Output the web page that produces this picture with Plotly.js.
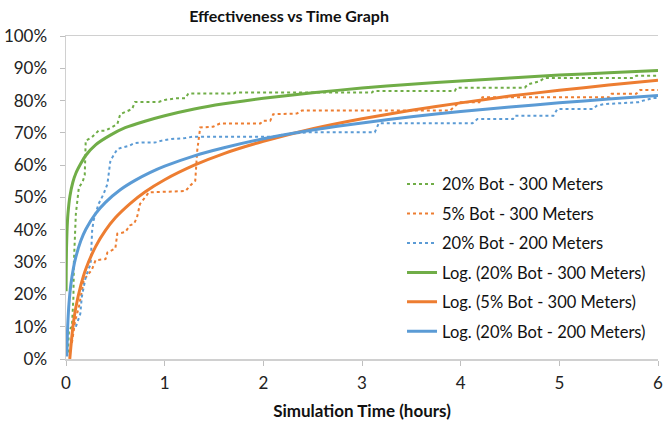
<!DOCTYPE html>
<html>
<head>
<meta charset="utf-8">
<script src="https://cdn.plot.ly/plotly-3.0.1.min.js"></script>
<style>html,body{margin:0;padding:0;background:#fff;}#chart{width:663px;height:421px;}</style>
</head>
<body>
<div id="chart"></div>
<script>
// ---- Data ----
const seriesNames = ["20% Bot - 300 Meters", "5% Bot - 300 Meters", "20% Bot - 200 Meters"];
const trendNames = ["Log. (20% Bot - 300 Meters)", "Log. (5% Bot - 300 Meters)", "Log. (20% Bot - 200 Meters)"];

// 20% Bot - 300 Meters (dotted, green)
const g300X = [0.02,0.03,0.06,0.075,0.08,0.095,0.10,0.13,0.17,0.19,0.20,0.26,0.33,0.40,0.47,0.52,0.55,0.67,0.70,0.94,1.00,1.11,1.21,1.24,1.70,1.72,3.10,3.12,3.94,3.96,4.65,4.68,4.80,4.85,5.75,5.78,6.00];
const g300Y = [0.02,0.09,0.10,0.19,0.30,0.40,0.45,0.53,0.55,0.57,0.676,0.686,0.707,0.707,0.72,0.727,0.758,0.774,0.796,0.796,0.802,0.807,0.807,0.822,0.822,0.825,0.825,0.83,0.83,0.84,0.84,0.85,0.86,0.87,0.87,0.877,0.877];

// 5% Bot - 300 Meters (dotted, orange)
const o300X = [0.06,0.08,0.094,0.13,0.16,0.18,0.23,0.26,0.30,0.40,0.42,0.50,0.52,0.60,0.65,0.69,0.72,0.75,0.84,1.21,1.26,1.29,1.31,1.33,1.36,1.49,1.56,1.97,2.00,2.07,2.10,2.34,2.39,3.89,3.99,4.19,4.22,5.51,5.53,5.78,5.82,6.00];
const o300Y = [0.05,0.10,0.12,0.16,0.21,0.244,0.264,0.275,0.306,0.309,0.33,0.342,0.388,0.393,0.414,0.419,0.439,0.48,0.516,0.52,0.537,0.547,0.552,0.645,0.717,0.719,0.729,0.729,0.738,0.738,0.758,0.76,0.769,0.769,0.795,0.795,0.81,0.81,0.821,0.821,0.833,0.833];

// 20% Bot - 200 Meters (dotted, blue)
const b200X = [0.10,0.145,0.16,0.20,0.25,0.26,0.265,0.28,0.33,0.38,0.42,0.45,0.47,0.52,0.57,0.64,0.69,0.77,0.90,0.97,1.07,1.21,1.28,2.10,2.20,2.45,3.13,3.17,4.12,4.17,4.53,4.55,4.94,4.98,5.34,5.38,5.45,5.80,5.85,5.95,6.00];
const b200Y = [0.10,0.14,0.192,0.254,0.295,0.347,0.398,0.43,0.48,0.51,0.542,0.614,0.624,0.65,0.655,0.66,0.668,0.67,0.67,0.676,0.681,0.684,0.688,0.688,0.695,0.702,0.702,0.73,0.73,0.743,0.743,0.753,0.753,0.774,0.774,0.784,0.789,0.795,0.80,0.808,0.808];

// Logarithmic trendlines
const gLogX = [0.001,0.002,0.005,0.01,0.02,0.04,0.07,0.1,0.15,0.2,0.3,0.45,0.6,0.8,1,1.3,1.6,2,2.5,3,3.5,4,4.5,5,5.5,6];
const gLogY = [0.21,0.27,0.34,0.395,0.45,0.505,0.548,0.575,0.605,0.63,0.663,0.693,0.716,0.736,0.753,0.774,0.79,0.807,0.824,0.839,0.851,0.861,0.87,0.879,0.886,0.893];

const oLogX = [0.038,0.05,0.07,0.1,0.15,0.2,0.3,0.4,0.5,0.65,0.8,1,1.3,1.6,2,2.5,3,3.5,4,4.5,5,5.5,6];
const oLogY = [0.0,0.04,0.10,0.16,0.228,0.278,0.348,0.398,0.437,0.481,0.517,0.555,0.600,0.636,0.674,0.713,0.744,0.77,0.793,0.814,0.832,0.848,0.863];

const bLogX = [0.008,0.01,0.015,0.02,0.03,0.05,0.075,0.1,0.15,0.2,0.3,0.4,0.55,0.7,0.85,1,1.3,1.6,2,2.5,3,3.5,4,4.5,5,5.5,6];
const bLogY = [0.008,0.035,0.085,0.12,0.17,0.232,0.281,0.316,0.366,0.401,0.45,0.485,0.524,0.553,0.577,0.597,0.629,0.654,0.682,0.709,0.731,0.75,0.766,0.78,0.793,0.805,0.816];

const xTickVals = [0,1,2,3,4,5,6];
const yTickVals = [0,0.1,0.2,0.3,0.4,0.5,0.6,0.7,0.8,0.9,1.0];

// ---- Styles ----
const GREEN = "#70AD47", ORANGE = "#ED7D31", BLUE = "#5B9BD5";
const FONT = "Lato, 'Open Sans', sans-serif";

function dotted(x, y, name, color, grp) {
  return {x: x, y: y, name: name, type: "scatter", mode: "lines", legendgroup: grp,
          line: {color: color, width: 2, dash: "dot"}, hoverinfo: "skip"};
}
function solid(x, y, name, color, grp) {
  return {x: x, y: y, name: name, type: "scatter", mode: "lines", legendgroup: grp,
          line: {color: color, width: 3, shape: "spline", smoothing: 0.5}, hoverinfo: "skip"};
}

const traces = [
  dotted(g300X, g300Y, seriesNames[0], GREEN, "a"),
  dotted(o300X, o300Y, seriesNames[1], ORANGE, "b"),
  dotted(b200X, b200Y, seriesNames[2], BLUE, "c"),
  solid(gLogX, gLogY, trendNames[0], GREEN, "d"),
  solid(oLogX, oLogY, trendNames[1], ORANGE, "e"),
  solid(bLogX, bLogY, trendNames[2], BLUE, "f")
];

const layout = {
  width: 663, height: 421,
  margin: {l: 66, r: 5, t: 36, b: 62},
  paper_bgcolor: "#fff", plot_bgcolor: "#fff",
  font: {family: FONT, size: 17, color: "#222"},
  title: {text: "<b>Effectiveness vs Time Graph</b>", x: 0.436, xanchor: "center",
          y: 0.96, yanchor: "middle", font: {family: FONT, size: 16, color: "#111"}},
  xaxis: {range: [0, 6], tickvals: xTickVals, ticks: "outside", ticklen: 5, tickcolor: "#BFBFBF",
          showline: true, linecolor: "#D0D0D0", linewidth: 1.5, mirror: true, showgrid: false, zeroline: false,
          tickfont: {size: 17}, ticklabelstandoff: 3, ticklabeloverflow: "allow",
          title: {text: "<b>Simulation Time (hours)</b>", font: {size: 17, color: "#111"}, standoff: 14}},
  yaxis: {range: [0, 1], tickvals: yTickVals, tickformat: ".0%", ticks: "outside", ticklen: 5, tickcolor: "#BFBFBF",
          showline: true, linecolor: "#D0D0D0", linewidth: 1.5, showgrid: false, zeroline: false,
          tickfont: {size: 17}, ticklabelstandoff: 9},
  showlegend: true,
  legend: {x: 0.5676, y: 0.595, xanchor: "left", yanchor: "top", bgcolor: "rgba(255,255,255,0)",
           font: {size: 16.5, color: "#111"}, tracegroupgap: 5, itemwidth: 30, traceorder: "grouped"}
};

Plotly.newPlot("chart", traces, layout, {staticPlot: true, displayModeBar: false});
</script>
</body>
</html>
